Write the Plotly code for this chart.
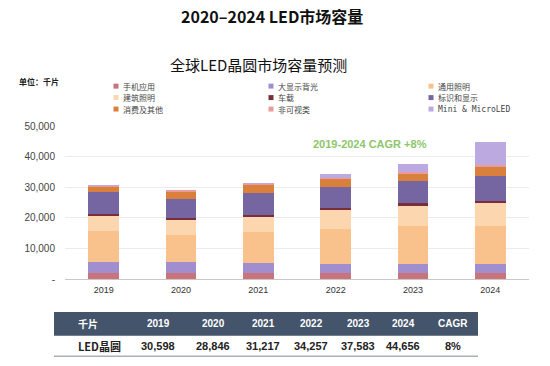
import plotly.graph_objects as go

# ---------------- data ----------------
years = ["2019", "2020", "2021", "2022", "2023", "2024"]
series_names = ["手机应用", "大显示背光", "通用照明", "建筑照明", "车载",
                "标识和显示", "消费及其他", "非可视类", "Mini & MicroLED"]
mobile      = [1800, 1800, 1900, 2000, 2100, 1900]
backlight   = [3750, 3600, 3250, 2950, 2750, 2900]
general     = [10000, 8950, 10300, 11400, 12480, 12500]
architect   = [5200, 5050, 5100, 6350, 6850, 7600]
automotive  = [500, 500, 500, 500, 500, 600]
signage     = [7100, 6350, 7000, 6850, 7300, 8150]
consumer    = [1950, 2450, 2700, 2750, 2450, 3100]
invisible   = [150, 150, 300, 300, 400, 400]
mini_micro  = [100, 0, 167, 1150, 2750, 7500]
series_values = [mobile, backlight, general, architect, automotive,
                 signage, consumer, invisible, mini_micro]
totals = [30598, 28846, 31217, 34257, 37583, 44656]
cagr_text = "8%"
y_tickvals = [0, 10000, 20000, 30000, 40000, 50000]
y_ticktext = ["-", "10,000", "20,000", "30,000", "40,000", "50,000"]
table_header = ["千片"] + years + ["CAGR"]
table_row = ["LED晶圆"] + [f"{v:,}" for v in totals] + [cagr_text]

# ---------------- style ----------------
colors = ["#C9737A", "#A18ECF", "#F9C28C", "#FBD6AF", "#7A2E3C",
          "#7565A0", "#D9803C", "#E89C9C", "#BBA9DF"]
W, H = 550, 366
L, R, T, B = 65, 21, 126, 86.5
CJK = "Noto Sans CJK SC"


def px(x):
    return (x - L) / (W - L - R)


def py(y):
    return (H - B - y) / (H - T - B)


def note(text, x, y, size, color, family=CJK, xanchor="center"):
    return dict(text=text, x=px(x), y=py(y), xref="paper", yref="paper",
                xanchor=xanchor, yanchor="middle", showarrow=False,
                font=dict(family=family, size=size, color=color))


fig = go.Figure()
for name, vals, col in zip(series_names, series_values, colors):
    fig.add_trace(go.Bar(x=years, y=vals, name=name, marker=dict(color=col, line=dict(width=0)),
                         showlegend=False))

annotations = []
shapes = []

# titles
annotations.append(note("<b>2020–2024 LED市场容量</b>", 272, 16, 16, "#111"))
annotations.append(note("全球LED晶圆市场容量预测", 258, 64, 15, "#111"))
annotations.append(note("<b>单位：千片</b>", 17, 81, 8, "#222", xanchor="left"))

# legend (3 columns)
col_x = [116, 271, 431]
row_y = [86, 97.5, 109]
for i, (name, col) in enumerate(zip(series_names, colors)):
    cx = col_x[i % 3]
    cy = row_y[i // 3]
    shapes.append(dict(type="rect", xref="paper", yref="paper", x0=px(cx - 2.5), x1=px(cx + 2.5),
                       y0=py(cy + 2.5), y1=py(cy - 2.5), fillcolor=col, line=dict(width=0)))
    fam = "DejaVu Sans Mono" if name.startswith("Mini") else CJK
    annotations.append(note(name, cx + 5, cy, 8, "#444", family=fam, xanchor="left"))

# CAGR note
annotations.append(note("<b>2019-2024 CAGR +8%</b>", 370, 144, 11, "#8DC66B", family="Liberation Sans"))

# table
shapes.append(dict(type="rect", xref="paper", yref="paper", x0=px(54), x1=px(478),
                   y0=py(336.5), y1=py(312.5), fillcolor="#44546A", line=dict(width=0), layer="below"))
shapes.append(dict(type="line", xref="paper", yref="paper", x0=px(54), x1=px(478),
                   y0=py(357), y1=py(357), line=dict(color="#A9B0BA", width=1.5)))
col_centers = [76, 158, 213, 263, 311, 358, 403, 453]
for j, (h, v) in enumerate(zip(table_header, table_row)):
    anchor = "left" if j == 0 else "center"
    fam = CJK if j == 0 else "Liberation Sans"
    annotations.append(note(f"<b>{h}</b>", col_centers[j], 324.5, 10, "white", family=fam, xanchor=anchor))
    annotations.append(note(f"<b>{v}</b>", col_centers[j], 347, 11, "#222", family=fam, xanchor=anchor))

fig.update_layout(
    width=W, height=H, autosize=False,
    margin=dict(l=L, r=R, t=T, b=B),
    barmode="stack", bargap=0.6,
    paper_bgcolor="white", plot_bgcolor="white",
    annotations=annotations, shapes=shapes,
    xaxis=dict(showgrid=False, ticks="", showline=True, linecolor="#C8C8C8", linewidth=1,
               tickfont=dict(family="Liberation Sans", size=9, color="#333"), ticklabelstandoff=2),
    yaxis=dict(range=[0, 50000], tickvals=y_tickvals, ticktext=y_ticktext, showgrid=True,
               gridcolor="#EBEBEB", zeroline=False, showline=False, ticks="",
               tickfont=dict(family="Liberation Sans", size=10, color="#444"), ticklabelstandoff=9),
)

fig.write_html("out.html", config={"displayModeBar": False},
               post_script="document.body.style.margin='0px';")
